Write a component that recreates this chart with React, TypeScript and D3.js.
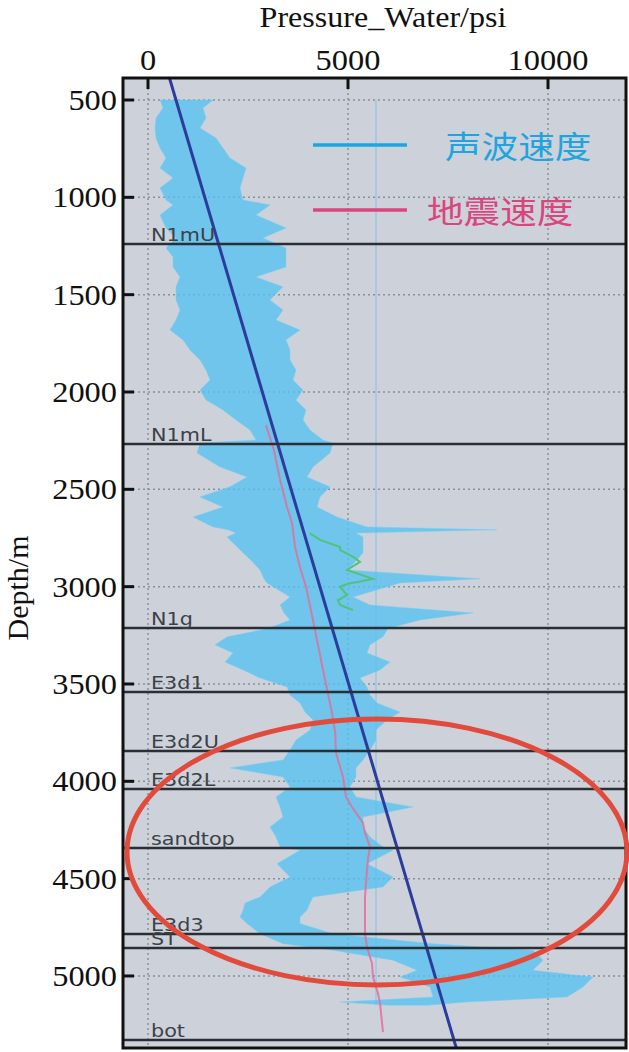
import React from 'react';
import * as d3 from 'd3';

// ---------- data ----------
const pressureTicks = [0, 5000, 10000];
const depthTicks = [500, 1000, 1500, 2000, 2500, 3000, 3500, 4000, 4500, 5000];

const formationNames = ['N1mU', 'N1mL', 'N1g', 'E3d1', 'E3d2U', 'E3d2L', 'sandtop', 'E3d3', 'ST', 'bot'];
const formationDepths = [1240, 2267, 3212, 3541, 3844, 4039, 4342, 4784, 4856, 5329];

// hydrostatic water pressure line
const hydroDepth = [387, 5370];
const hydroPressure = [537, 7707];

// measured pressure band (blue)
const bandDepth = [500, 541, 592, 644, 695, 747, 798, 849, 901, 952, 1014, 1039, 1091, 1158, 1209, 1260, 1306, 1358, 1409, 1460, 1527, 1579, 1630, 1681, 1733, 1784, 1836, 1887, 1938, 1990, 2041, 2092, 2144, 2195, 2247, 2262, 2313, 2385, 2437, 2487, 2539, 2591, 2642, 2693, 2708, 2725, 2745, 2826, 2870, 2914, 2960, 2981, 3053, 3094, 3135, 3171, 3215, 3258, 3299, 3341, 3387, 3428, 3469, 3515, 3556, 3598, 3644, 3685, 3736, 3788, 3839, 3890, 3931, 3978, 4029, 4080, 4132, 4183, 4235, 4286, 4337, 4354, 4423, 4492, 4543, 4594, 4625, 4663, 4697, 4731, 4783, 4834, 4868, 4919, 4970, 5005, 5056, 5108, 5134, 5150];
const bandLeft = [300, 375, 200, 175, 200, 300, 450, 300, 625, 300, 450, 625, 300, 450, 700, 450, 625, 625, 800, 700, 700, 800, 700, 550, 875, 1050, 1300, 1450, 1550, 1300, 1450, 1875, 2200, 2550, 2700, 1300, 1225, 1800, 2475, 2050, 1300, 1875, 1125, 1625, 2000, 2200, 1975, 2375, 2600, 2800, 2900, 2975, 3550, 3300, 3400, 3550, 3000, 1975, 1675, 2125, 1925, 2375, 2800, 3475, 3550, 3800, 3925, 4125, 4050, 3700, 3550, 3375, 2050, 3375, 3550, 3200, 3300, 3375, 3050, 3200, 3300, 3800, 3225, 3550, 3050, 2800, 2425, 2375, 2300, 2475, 2800, 3375, 4625, 6125, 6725, 6300, 7050, 7125, 4800, 6000];
const bandRight = [1625, 1375, 1450, 1300, 1700, 1875, 2050, 2450, 2375, 2300, 2375, 3050, 2700, 3450, 2875, 3450, 3450, 3450, 2700, 3375, 3050, 3375, 3200, 3800, 3450, 3550, 3550, 3700, 3625, 3875, 3700, 3950, 3875, 4050, 4375, 4625, 4550, 4125, 3975, 4550, 4300, 4225, 4725, 5475, 8725, 5200, 5375, 5375, 5200, 4975, 8300, 6300, 5125, 5550, 8125, 6800, 6000, 5875, 5550, 5475, 6050, 5800, 5300, 5475, 5550, 5725, 6300, 5975, 5700, 5700, 5550, 5375, 5200, 5200, 5050, 5200, 6625, 5375, 5375, 5550, 5875, 6125, 5475, 6125, 5875, 4125, 4050, 3975, 3800, 3800, 4625, 7125, 9625, 9875, 9625, 11125, 10875, 10475, 7975, 7000];

// seismic (pink) curve
const seisDepth = [2170, 2300, 2450, 2591, 2673, 2796, 2900, 3000, 3100, 3171, 3250, 3350, 3428, 3550, 3650, 3750, 3854, 3978, 4080, 4132, 4214, 4266, 4337, 4400, 4455, 4594, 4731, 4783, 4852, 4935, 5005, 5090, 5139, 5288];
const seisPressure = [2950, 3150, 3300, 3475, 3600, 3675, 3800, 3950, 4050, 4125, 4200, 4300, 4375, 4500, 4600, 4680, 4700, 4875, 4950, 5100, 5375, 5425, 5550, 5500, 5475, 5425, 5425, 5425, 5475, 5600, 5625, 5750, 5800, 5875];

// green curve
const greenDepth = [2726, 2760, 2796, 2811, 2850, 2873, 2914, 2960, 2985, 3000, 3043, 3070, 3094, 3120];
const greenPressure = [4050, 4300, 4800, 4800, 5150, 5300, 4975, 5625, 5000, 4800, 4975, 4750, 4800, 5125];

// thin reference vertical line
const refPressure = 5700;
const refDepthRange = [500, 5150];

const legendLabels = ['声波速度', '地震速度'];

// highlighted ellipse (center depth / pressure, radii)
const ellipseCenter = { depth: 4363, pressure: 5725 };
const ellipseRadius = { pressure: 6250, depth: 683 };

export default function App() {
  const W = 629, H = 1052;
  const L = 123, R = 626, T = 78, B = 1048;
  const x = d3.scaleLinear().domain([-625, 11950]).range([L, R]);
  const y = d3.scaleLinear().domain([387, 5370]).range([T, B]);

  const bandData = bandDepth.map((d, i) => ({ d, l: bandLeft[i], r: bandRight[i] }));
  const band = d3.area<any>()
    .y((p) => y(p.d))
    .x0((p) => x(p.l))
    .x1((p) => x(p.r))
    .curve(d3.curveLinear);

  const line = d3.line<[number, number]>().x((p) => x(p[1])).y((p) => y(p[0]));
  const seis = line(seisDepth.map((d, i) => [d, seisPressure[i]]));
  const green = line(greenDepth.map((d, i) => [d, greenPressure[i]]));
  const hydro = line(hydroDepth.map((d, i) => [d, hydroPressure[i]]));

  const serif = '"Liberation Serif", "Times New Roman", serif';
  const sans = '"DejaVu Sans", Verdana, sans-serif';
  const cjk = '"Noto Sans CJK SC", sans-serif';

  const ecx = x(ellipseCenter.pressure), ecy = y(ellipseCenter.depth);
  const erx = x(ellipseCenter.pressure + ellipseRadius.pressure) - ecx;
  const ery = y(ellipseCenter.depth + ellipseRadius.depth) - ecy;

  return (
    <svg width={W} height={H} style={{ position: 'absolute', left: 0, top: 0, background: '#fff' }}>
      <defs>
        <clipPath id="plotclip"><rect x={L} y={T} width={R - L} height={B - T} /></clipPath>
      </defs>
      <rect x={L} y={T} width={R - L} height={B - T} fill="#cdd2da" />
      <g clipPath="url(#plotclip)">
        {pressureTicks.map((p) => (
          <line key={'vg' + p} x1={x(p)} x2={x(p)} y1={T} y2={B} stroke="#8a9098" strokeWidth={1.5} strokeDasharray="2,3" />
        ))}
        {depthTicks.map((d) => (
          <line key={'hg' + d} x1={L} x2={R} y1={y(d)} y2={y(d)} stroke="#8a9098" strokeWidth={1.5} strokeDasharray="2,3" />
        ))}
        <line x1={x(refPressure)} x2={x(refPressure)} y1={y(refDepthRange[0])} y2={y(refDepthRange[1])} stroke="#9cc6e2" strokeWidth={1.5} />
        <path d={band(bandData) || ''} fill="#55c2f0" fillOpacity={0.78} stroke="#7ccff2" strokeWidth={0.8} strokeOpacity={0.6} />
        <path d={green || ''} fill="none" stroke="#4fc47a" strokeWidth={2} />
        <path d={seis || ''} fill="none" stroke="#e0709a" strokeWidth={2} strokeOpacity={0.85} />
        <path d={hydro || ''} fill="none" stroke="#2c3c9c" strokeWidth={3} />
        {formationDepths.map((d, i) => (
          <g key={'f' + i}>
            <line x1={L} x2={R} y1={y(d)} y2={y(d)} stroke="#2a2f35" strokeWidth={2.5} />
            <text transform={`translate(151,${y(d) - 3}) scale(1.22,1)`} fontFamily={sans} fontSize={17} fill="#3c4147">{formationNames[i]}</text>
          </g>
        ))}
      </g>

      {/* legend */}
      <line x1={313} x2={407} y1={145} y2={145} stroke="#1ea5df" strokeWidth={3.5} />
      <text transform="translate(445,145) scale(1.18,1)" dominantBaseline="central" fontFamily={cjk} fontSize={31} fill="#1ea5df">{legendLabels[0]}</text>
      <line x1={313} x2={407} y1={210} y2={210} stroke="#d9457c" strokeWidth={3.5} />
      <text transform="translate(427,210) scale(1.18,1)" dominantBaseline="central" fontFamily={cjk} fontSize={31} fill="#d9457c">{legendLabels[1]}</text>

      {/* frame */}
      <rect x={L} y={T} width={R - L} height={B - T} fill="none" stroke="#111" strokeWidth={3} />

      {/* ticks */}
      {pressureTicks.map((p) => (
        <g key={'xt' + p}>
          <line x1={x(p)} x2={x(p)} y1={T} y2={T + 11} stroke="#111" strokeWidth={3} />
          <text transform={`translate(${x(p)},70) scale(1.08,1)`} textAnchor="middle" fontFamily={serif} fontSize={30} fill="#111">{p}</text>
        </g>
      ))}
      {depthTicks.map((d) => (
        <g key={'yt' + d}>
          <line x1={L} x2={L + 11} y1={y(d)} y2={y(d)} stroke="#111" strokeWidth={3} />
          <text transform={`translate(117,${y(d) + 10}) scale(1.08,1)`} textAnchor="end" fontFamily={serif} fontSize={30} fill="#111">{d}</text>
        </g>
      ))}

      <text transform="translate(383,27) scale(1.07,1)" textAnchor="middle" fontFamily={serif} fontSize={30} fill="#111">Pressure_Water/psi</text>
      <text transform="translate(28,588) rotate(-90)" textAnchor="middle" fontFamily={serif} fontSize={30} fill="#111">Depth/m</text>

      {/* highlight ellipse */}
      <ellipse cx={ecx} cy={ecy} rx={erx} ry={ery} fill="none" stroke="#e24a3c" strokeWidth={5} />
    </svg>
  );
}
